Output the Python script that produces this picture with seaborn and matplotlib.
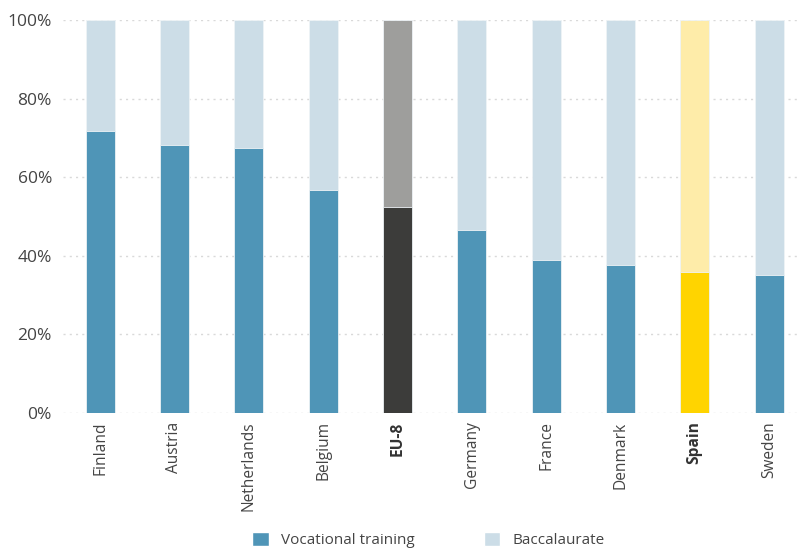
import matplotlib
matplotlib.use("Agg")
import matplotlib.pyplot as plt
import seaborn as sns
import pandas as pd
from matplotlib.patches import Patch
from matplotlib.ticker import FuncFormatter, MultipleLocator

countries = ["Finland", "Austria", "Netherlands", "Belgium", "EU-8",
             "Germany", "France", "Denmark", "Spain", "Sweden"]
vocational = [71.8, 68.2, 67.4, 56.7, 52.4, 46.6, 38.9, 37.7, 35.9, 35.1]
baccalaureate = [100 - v for v in vocational]
highlight = ["EU-8", "Spain"]

sns.set_theme(style="white")
plt.rcParams["font.family"] = ["Open Sans", "DejaVu Sans"]

dark = {"EU-8": "#3c3c3a", "Spain": "#ffd400"}
light = {"EU-8": "#9e9e9c", "Spain": "#feeca9"}
voc_col = "#4f95b7"
bac_col = "#ccdde7"

df = pd.DataFrame({"country": countries, "voc": vocational,
                   "total": [v + b for v, b in zip(vocational, baccalaureate)]})

fig = plt.figure(figsize=(8.01, 5.52), dpi=100)
ax = fig.add_axes([63 / 801, 1 - 413 / 552, 1 - 63 / 801, (413 - 20) / 552])

pal_top = [light.get(c, bac_col) for c in countries]
pal_bot = [dark.get(c, voc_col) for c in countries]

sns.barplot(data=df, x="country", y="total", hue="country", palette=pal_top,
            legend=False, width=0.39, ax=ax, edgecolor="#eef3f6", linewidth=0.6,
            saturation=1, zorder=2)
sns.barplot(data=df, x="country", y="voc", hue="country", palette=pal_bot,
            legend=False, width=0.39, ax=ax, edgecolor="#eef3f6", linewidth=0.6,
            saturation=1, zorder=3)

ax.set_xlim(-0.5, 9.43)
ax.set_ylim(0, 100)
ax.yaxis.set_major_locator(MultipleLocator(20))
ax.yaxis.set_major_formatter(FuncFormatter(lambda v, p: f"{v:.0f}%"))
ax.grid(axis="y", color="#d9d9d9", linestyle=(0, (1.5, 3)), linewidth=1, zorder=0)
ax.grid(axis="x", visible=False)
for s in ax.spines.values():
    s.set_visible(False)
ax.set_xlabel("")
ax.set_ylabel("")
ax.tick_params(axis="y", length=0, pad=8, labelsize=12.5, labelcolor="#444444")
ax.tick_params(axis="x", length=0, pad=6, labelsize=11.2, labelcolor="#444444")
ax.set_xticks(range(len(countries)))
ax.set_xticklabels(countries, rotation=90, va="top", ha="center")
for lbl in ax.get_xticklabels():
    if lbl.get_text() in highlight:
        lbl.set_fontweight("bold")
        lbl.set_color("#333333")

handles = [Patch(facecolor=voc_col, label="Vocational training"),
           Patch(facecolor=bac_col, label="Baccalaurate")]
fig.legend(handles=handles, loc="center", bbox_to_anchor=(0.535, 0.022),
           ncol=2, frameon=False, fontsize=11, handlelength=1.1, handleheight=1.1,
           columnspacing=4.5, handletextpad=0.8, labelcolor="#444444")

fig.savefig("out.png", dpi=100)
